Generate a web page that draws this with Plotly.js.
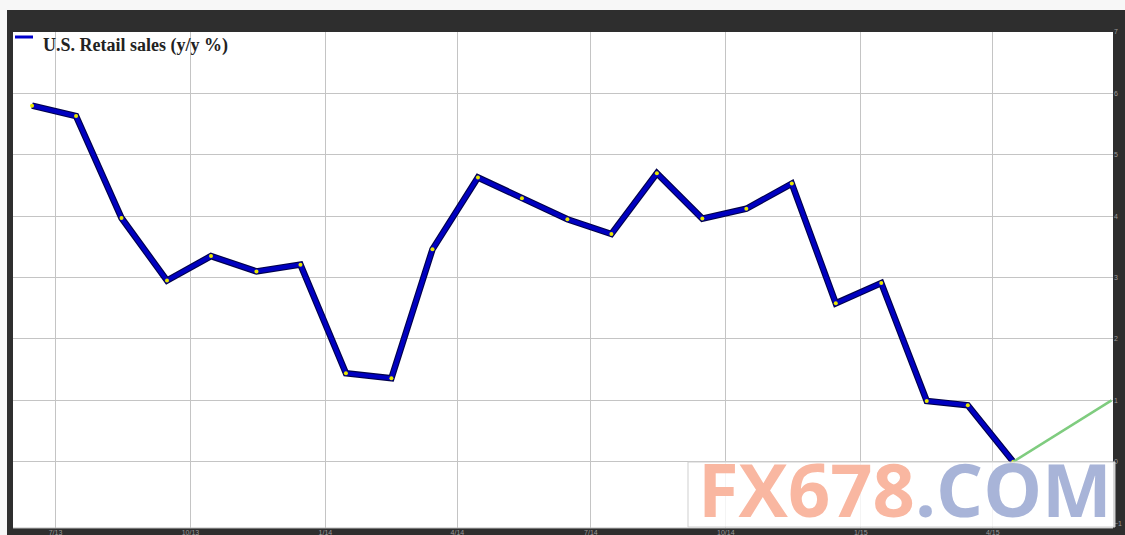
<!DOCTYPE html>
<html>
<head>
<meta charset="utf-8">
<script src="https://cdn.plot.ly/plotly-3.0.1.min.js"></script>
<style>
  html, body { margin: 0; padding: 0; background: #ffffff; }
  #chart { width: 1125px; height: 535px; }
</style>
</head>
<body>
<div id="chart"></div>
<script>
// ---- data ----
const months = ['2013-06-15','2013-07-15','2013-08-15','2013-09-15','2013-10-15','2013-11-15','2013-12-15',
                '2014-01-15','2014-02-15','2014-03-15','2014-04-15','2014-05-15','2014-06-15','2014-07-15',
                '2014-08-15','2014-09-15','2014-10-15','2014-11-15','2014-12-15','2015-01-15','2015-02-15',
                '2015-03-15','2015-04-15'];
const retailSales = [5.80, 5.63, 3.97, 2.95, 3.35, 3.10, 3.21, 1.44, 1.36, 3.46, 4.63, 4.29, 3.95, 3.71,
                     4.70, 3.96, 4.12, 4.53, 2.58, 2.91, 0.99, 0.92, 0.00];
const projDates = ['2015-04-15', '2015-06-21'];
const projValues = [0.00, 1.00];
const xTickVals = ['2013-07-01','2013-10-01','2014-01-01','2014-04-01','2014-07-01','2014-10-01','2015-01-01','2015-04-01'];
const xTickText = ['7/13','10/13','1/14','4/14','7/14','10/14','1/15','4/15'];
const yTickVals = [-1, 0, 1, 2, 3, 4, 5, 6, 7];
const yGridVals = [0, 1, 2, 3, 4, 5, 6];
const seriesName = 'U.S. Retail sales (y/y %)';

// ---- geometry ----
const W = 1125, H = 535;
const M = { l: 13, r: 12, t: 32, b: 7 };
const PW = W - M.l - M.r, PH = H - M.t - M.b;
const px = x => (x - M.l) / PW;
const py = y => (H - M.b - y) / PH;
const yRange = [-1.08, 7];

const traces = [
  { x: months, y: retailSales, type: 'scatter', mode: 'lines', yaxis: 'y',
    line: { color: '#00004a', width: 6.5 }, showlegend: false, hoverinfo: 'skip' },
  { x: months, y: retailSales, type: 'scatter', mode: 'lines+markers', name: seriesName, yaxis: 'y',
    line: { color: '#0000c0', width: 4.2 },
    marker: { color: '#e8e800', size: 4 }, showlegend: false },
  { x: projDates, y: projValues, type: 'scatter', mode: 'lines', yaxis: 'y2',
    line: { color: '#7fcc7f', width: 2.5 }, showlegend: false, hoverinfo: 'skip' }
];

const tickFont = { family: 'Arial, Liberation Sans, sans-serif', size: 7, color: '#9a9a9a' };

const layout = {
  width: W, height: H,
  margin: { l: M.l, r: M.r, t: M.t, b: M.b, pad: 0, autoexpand: false },
  paper_bgcolor: '#2e2e2e',
  plot_bgcolor: '#ffffff',
  showlegend: false,
  xaxis: {
    type: 'date', range: ['2013-06-02', '2015-06-22'],
    tickmode: 'array', tickvals: xTickVals, ticktext: xTickText,
    showgrid: true, gridcolor: '#c4c4c4', gridwidth: 1,
    zeroline: false, showline: false, ticks: '',
    ticklabelstandoff: -1,
    tickfont: tickFont,
    fixedrange: true
  },
  yaxis: {
    range: yRange, side: 'left',
    tickmode: 'array', tickvals: yGridVals, showticklabels: false,
    showgrid: true, gridcolor: '#c4c4c4', gridwidth: 1,
    zeroline: false, showline: false, ticks: '',
    fixedrange: true
  },
  yaxis2: {
    range: yRange, side: 'right', overlaying: 'y',
    tickmode: 'array', tickvals: yTickVals,
    showgrid: false, zeroline: false, showline: false, ticks: '',
    tickfont: tickFont,
    fixedrange: true
  },
  shapes: [
    // white strip above the dark frame
    { type: 'rect', xref: 'paper', yref: 'paper', x0: px(0), x1: px(W), y0: py(10), y1: py(0),
      fillcolor: '#f7f7f7', line: { width: 0 }, layer: 'above' },
    // white strip left of the dark frame
    { type: 'rect', xref: 'paper', yref: 'paper', x0: px(0), x1: px(7), y0: py(H), y1: py(10),
      fillcolor: '#f7f7f7', line: { width: 0 }, layer: 'above' },
    // thin edge at the bottom of the plot area
    { type: 'line', xref: 'paper', yref: 'paper', x0: 0, x1: 1, y0: 0, y1: 0,
      line: { color: '#bdbdbd', width: 1 }, layer: 'above' },
    // legend sample line
    { type: 'line', xref: 'paper', yref: 'paper', x0: px(15), x1: px(33), y0: py(37), y1: py(37),
      line: { color: '#0000cc', width: 3 }, layer: 'above' },
    // watermark box
    { type: 'rect', xref: 'paper', yref: 'paper', x0: px(688), x1: px(1115), y0: py(527), y1: py(462),
      fillcolor: 'rgba(255,255,255,0.82)', line: { color: '#cfcfcf', width: 1 }, layer: 'above' }
  ],
  annotations: [
    { xref: 'paper', yref: 'paper', x: px(41), y: py(46), xanchor: 'left', yanchor: 'middle',
      text: '<b>' + seriesName + '</b>', showarrow: false,
      font: { family: 'Liberation Serif, Times New Roman, serif', size: 18, color: '#222222' } },
    { xref: 'paper', yref: 'paper', x: px(905), y: py(488), xanchor: 'center', yanchor: 'middle',
      text: '<span style="color:#f9b7a1">FX678</span><span style="color:#a8b4d8">.COM</span>',
      showarrow: false,
      font: { family: 'Open Sans, sans-serif', size: 74, weight: 700, color: '#f9b7a1' } }
  ]
};

Plotly.newPlot('chart', traces, layout, { displayModeBar: false, staticPlot: true });
</script>
</body>
</html>
